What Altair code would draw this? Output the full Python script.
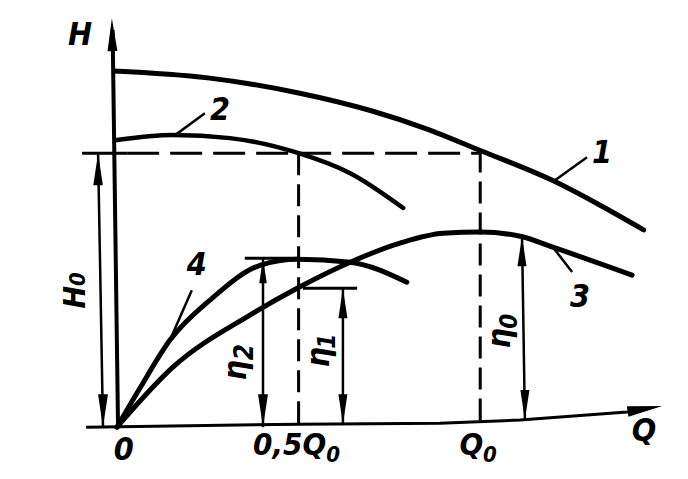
import altair as alt
import pandas as pd

# ---- characteristic curves (Q/Q0 ; relative H or eta) ----
c1_q = [-0.008, 0.25, 0.5, 0.7, 0.85, 1.0, 1.2, 1.33, 1.45]
c1_v = [1.30, 1.275, 1.22, 1.155, 1.09, 1.01, 0.90, 0.81, 0.72]
c2_q = [-0.005, 0.154, 0.311, 0.5, 0.642, 0.788]
c2_v = [1.047, 1.066, 1.055, 1.0, 0.927, 0.80]
c3_q = [0.0, 0.154, 0.366, 0.496, 0.642, 0.779, 0.898, 1.0, 1.11, 1.2, 1.418]
c3_v = [0.0, 0.219, 0.409, 0.507, 0.602, 0.672, 0.708, 0.712, 0.697, 0.657, 0.555]
c4_q = [0.0, 0.063, 0.146, 0.256, 0.394, 0.496, 0.642, 0.798]
c4_v = [0.0, 0.142, 0.318, 0.464, 0.591, 0.613, 0.602, 0.529]
curve_widths = [5, 4.5, 5, 5]

# horizontal axis (Q axis) polyline
ax_q = [-0.085, 0.504, 0.889, 1.11, 1.404, 1.468]
ax_v = [0.0, 0.011, 0.0146, 0.026, 0.055, 0.069]

# solid segments: leaders, dimension lines, ticks, vertical axis
seg_x = [1.206, 0.160, 1.200, 0.146, -0.052, 0.402, 0.622, 1.115, -0.096, 0.352, 0.512, 0.003]
seg_y = [0.901, 1.066, 0.657, 0.318, 1.0, 0.617, 0.507, 0.697, 1.0, 0.617, 0.507, -0.004]
seg_x2 = [1.294, 0.242, 1.253, 0.206, -0.0385, 0.402, 0.622, 1.123, 0.028, 0.504, 0.661, -0.012]
seg_y2 = [0.985, 1.146, 0.566, 0.500, 0.0, 0.0, 0.011, 0.026, 1.0, 0.617, 0.507, 1.45]
seg_w = [2.5, 2.5, 2.5, 2.5, 2.5, 2.5, 2.5, 2.5, 3, 3, 3, 4]

# dashed construction lines (horizontal H0 line, verticals at 0.5Q0 and Q0)
hd_x, hd_y, hd_x2, hd_y2 = [0.028], [1.0], [1.0], [1.0]
vd_x = [0.5, 1.0]
vd_y = [1.0, 1.01]
vd_x2 = [0.5, 1.0]
vd_y2 = [0.0, 0.0146]

# arrowheads: tip position, rotation, length
arr_x = [-0.014, 1.501, -0.052, -0.0385, 0.402, 0.402, 0.622, 0.622, 1.115, 1.123]
arr_y = [1.493, 0.077, 1.0, 0.0, 0.617, 0.0, 0.507, 0.011, 0.697, 0.026]
arr_angle = [359, 81, 0, 180, 0, 180, 0, 180, 0, 180]
arr_len = [33, 35, 32, 33, 25, 33, 30, 30, 30, 30]

# labels
lab_text = ["H", "1", "2", "3", "4", "0", "0,5Q", "0", "Q", "0", "Q",
            "H", "0", "η", "2", "η", "1", "η", "0"]
lab_x = [-0.102, 1.335, 0.284, 1.275, 0.220, 0.019, 0.576, 0.576, 1.008, 1.008, 1.451,
         -0.113, -0.106, 0.328, 0.352, 0.556, 0.581, 1.054, 1.082]
lab_y = [1.431, 1.0, 1.157, 0.474, 0.591, -0.084, -0.069, -0.100, -0.069, -0.100, -0.015,
         0.474, 0.540, 0.208, 0.274, 0.255, 0.314, 0.325, 0.387]
lab_size = [32, 32, 32, 32, 32, 32, 31, 22, 31, 22, 32,
            30, 22, 32, 26, 32, 24, 32, 24]
lab_angle = [0, 0, 0, 0, 0, 0, 0, 0, 0, 0, 0,
             270, 270, 270, 270, 270, 270, 270, 270]
lab_align = ["center"] * 6 + ["right", "left", "right", "left", "center"] + ["center"] * 8

XS = alt.Scale(domain=[-0.3, 1.55], nice=False, zero=False)
YS = alt.Scale(domain=[-0.16, 1.53], nice=False, zero=False)
FONT = "DejaVu Sans Condensed, DejaVu Sans"


def xq(f="x"):
    return alt.X(f + ":Q", scale=XS, axis=None)


def yq(f="y"):
    return alt.Y(f + ":Q", scale=YS, axis=None)


rows = []
for cid, (qs, vs) in enumerate([(c1_q, c1_v), (c2_q, c2_v), (c3_q, c3_v), (c4_q, c4_v)]):
    for i, (q, v) in enumerate(zip(qs, vs)):
        rows.append({"x": q, "y": v, "c": cid, "i": i, "w": curve_widths[cid]})
curves_df = pd.DataFrame(rows)

curves = alt.Chart(curves_df).mark_line(color="black", interpolate="monotone", strokeCap="round").encode(
    x=xq(), y=yq(), detail="c:N", order="i:Q",
    strokeWidth=alt.StrokeWidth("w:Q", scale=None),
)

axis_df = pd.DataFrame({"x": ax_q, "y": ax_v, "i": list(range(len(ax_q)))})
haxis = alt.Chart(axis_df).mark_line(color="black", strokeWidth=3).encode(
    x=xq(), y=yq(), order="i:Q",
)

seg_df = pd.DataFrame({"x": seg_x, "y": seg_y, "x2": seg_x2, "y2": seg_y2, "w": seg_w})
segs = alt.Chart(seg_df).mark_rule(color="black").encode(
    x=xq(), y=yq(), x2="x2:Q", y2="y2:Q",
    strokeWidth=alt.StrokeWidth("w:Q", scale=None),
)

hd_df = pd.DataFrame({"x": hd_x, "y": hd_y, "x2": hd_x2, "y2": hd_y2})
hdash = alt.Chart(hd_df).mark_rule(color="black", strokeWidth=3, strokeDash=[32, 11]).encode(
    x=xq(), y=yq(), x2="x2:Q", y2="y2:Q",
)
vd_df = pd.DataFrame({"x": vd_x, "y": vd_y, "x2": vd_x2, "y2": vd_y2})
vdash = alt.Chart(vd_df).mark_rule(color="black", strokeWidth=3, strokeDash=[22, 9]).encode(
    x=xq(), y=yq(), x2="x2:Q", y2="y2:Q",
)

arr_df = pd.DataFrame({"x": arr_x, "y": arr_y, "a": arr_angle,
                       "s": [l * l for l in arr_len]})
arrows = alt.Chart(arr_df).mark_point(
    shape="M0,0L0.3,2L-0.3,2Z", filled=True, fill="black", strokeWidth=0, opacity=1
).encode(
    x=xq(), y=yq(),
    angle=alt.Angle("a:Q", scale=None),
    size=alt.Size("s:Q", scale=None),
)

lab_df = pd.DataFrame({"x": lab_x, "y": lab_y, "t": lab_text, "s": lab_size,
                       "a": lab_angle, "al": lab_align})
label_layers = []
for al in ["center", "left", "right"]:
    sub = lab_df[lab_df["al"] == al]
    label_layers.append(
        alt.Chart(sub).mark_text(color="black", font=FONT, fontStyle="italic",
                                 fontWeight="bold", baseline="middle", align=al).encode(
            x=xq(), y=yq(), text="t:N",
            size=alt.Size("s:Q", scale=None),
            angle=alt.Angle("a:Q", scale=None),
        )
    )

chart = alt.layer(hdash, vdash, curves, haxis, segs, arrows, *label_layers).properties(
    width=672, height=463, padding=0,
    autosize=alt.AutoSizeParams(type="none"),
    background="white",
).configure_view(strokeWidth=0)

chart.save("out.html", embed_options={"renderer": "svg", "actions": False})
